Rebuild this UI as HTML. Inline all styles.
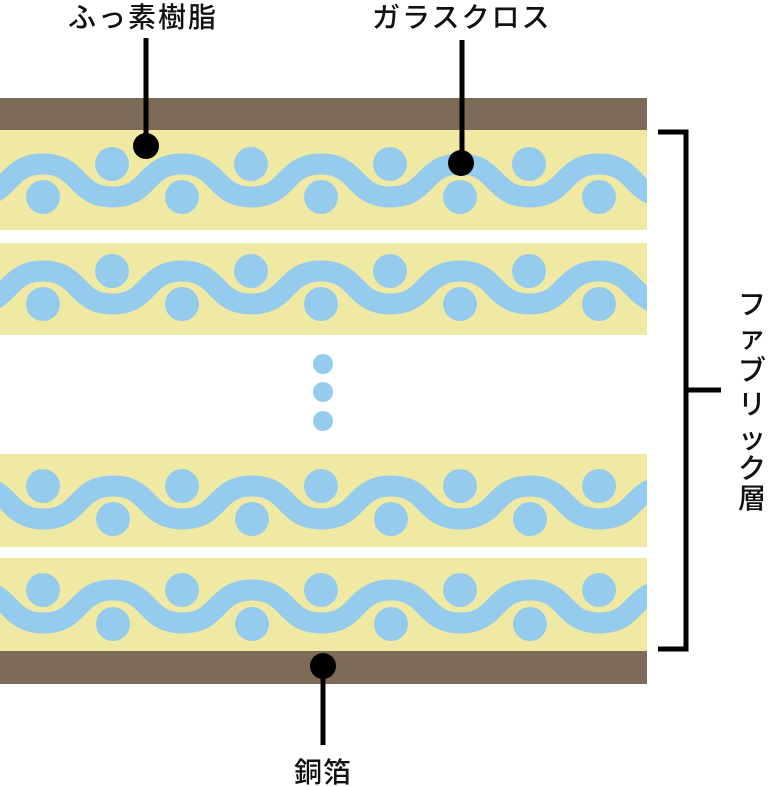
<!DOCTYPE html>
<html><head><meta charset="utf-8"><style>
html,body{margin:0;padding:0;background:#fff}
svg{display:block}
text{font-family:"Liberation Sans","Noto Sans CJK JP",sans-serif;fill:#111;font-weight:500}
</style></head><body>
<svg width="770" height="787" viewBox="0 0 770 787" xmlns="http://www.w3.org/2000/svg">
<defs>
<path id="w" fill="none" stroke="#95CBEC" stroke-width="21" d="M-139,0 C-101,0 -107.5,33 -69.5,33 C-31.5,33 -38,0 0,0 C38,0 31.5,33 69.5,33 C107.5,33 101,0 139,0 C177,0 170.5,33 208.5,33 C246.5,33 240,0 278,0 C316,0 309.5,33 347.5,33 C385.5,33 379,0 417,0 C455,0 448.5,33 486.5,33 C524.5,33 518,0 556,0 C594,0 587.5,33 625.5,33 C663.5,33 657,0 695,0 C733,0 726.5,33 764.5,33"/>
<g id="c">
<circle cx="0" cy="0" r="17"/><circle cx="139" cy="0" r="17"/><circle cx="278" cy="0" r="17"/><circle cx="417" cy="0" r="17"/><circle cx="556" cy="0" r="17"/><circle cx="695" cy="0" r="17"/>
</g>
<clipPath id="cl"><rect x="0" y="0" width="647" height="787"/></clipPath>
</defs>
<rect x="0" y="98" width="647" height="32" fill="#7D6A57"/>
<rect x="0" y="651" width="647" height="33" fill="#7D6A57"/>
<rect x="0" y="130" width="647" height="100" fill="#F0E9A4"/>
<rect x="0" y="243" width="647" height="92" fill="#F0E9A4"/>
<rect x="0" y="454" width="647" height="93" fill="#F0E9A4"/>
<rect x="0" y="558" width="647" height="93" fill="#F0E9A4"/>
<g clip-path="url(#cl)" fill="#95CBEC">
<use href="#w" transform="translate(43,164)"/>
<use href="#c" transform="translate(112,164)"/>
<use href="#c" transform="translate(43,197)"/>
<use href="#w" transform="translate(43,271)"/>
<use href="#c" transform="translate(112,271)"/>
<use href="#c" transform="translate(43,304)"/>
<use href="#w" transform="translate(-26,486)"/>
<use href="#c" transform="translate(43,486)"/>
<use href="#c" transform="translate(113,519)"/>
<use href="#w" transform="translate(-26,590)"/>
<use href="#c" transform="translate(43,590)"/>
<use href="#c" transform="translate(113,624)"/>
</g>
<circle cx="323" cy="364" r="10" fill="#95CBEC"/>
<circle cx="323" cy="392" r="10" fill="#95CBEC"/>
<circle cx="323" cy="421" r="10" fill="#95CBEC"/>
<line x1="146" y1="38" x2="146" y2="146" stroke="#000" stroke-width="5"/>
<circle cx="146" cy="146" r="13" fill="#000"/>
<line x1="462" y1="40" x2="462" y2="163" stroke="#000" stroke-width="5"/>
<circle cx="461" cy="163" r="13" fill="#000"/>
<line x1="323" y1="666" x2="323" y2="745" stroke="#000" stroke-width="5"/>
<circle cx="323" cy="666" r="13" fill="#000"/>
<path d="M658,132 H686 V649 H658 M686,390 H721" fill="none" stroke="#000" stroke-width="5"/>
<text x="68" y="27" font-size="28" letter-spacing="2">ふっ素樹脂</text>
<text x="372" y="27" font-size="28" letter-spacing="2">ガラスクロス</text>
<text x="294" y="782" font-size="28" letter-spacing="1">銅箔</text>
<g font-size="28" text-anchor="middle">
<text x="752" y="314">フ</text>
<text x="752" y="347">ァ</text>
<text x="752" y="380">ブ</text>
<text x="752" y="414">リ</text>
<text x="752" y="448">ッ</text>
<text x="752" y="478">ク</text>
<text x="752" y="508">層</text>
</g>
</svg>
</body></html>
